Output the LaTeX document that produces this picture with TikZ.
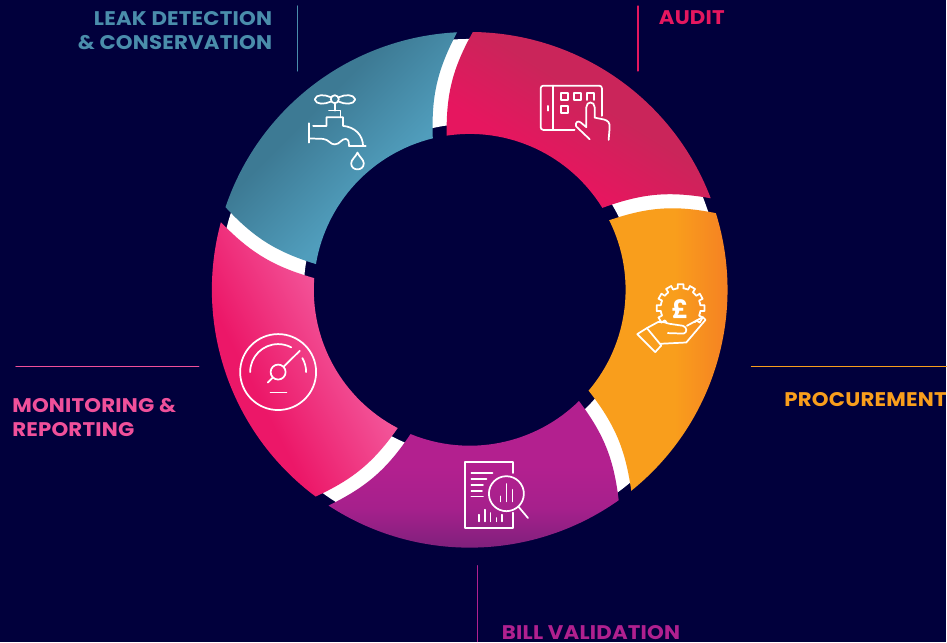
\documentclass[tikz,border=0pt]{standalone}
\usepackage{fontspec}
\setmainfont{Poppins}
\newfontfamily\tagfont[FakeStretch=1.08,LetterSpace=1]{Poppins}
\usepackage{tikz}
\usetikzlibrary{positioning}
\definecolor{mynavy}{HTML}{01003C}
\definecolor{myteal}{HTML}{4A8DAB}
\definecolor{mycrimson}{HTML}{E5175F}
\definecolor{myorange}{HTML}{F99E1C}
\definecolor{mypurple}{HTML}{B0208F}
\definecolor{mypink}{HTML}{F0509A}
\definecolor{tealdark}{HTML}{3D7A94}
\definecolor{teallight}{HTML}{509DBC}
\definecolor{auditlow}{HTML}{E6165F}
\definecolor{audithigh}{HTML}{CA255A}
\definecolor{procend}{HTML}{F47A25}
\definecolor{billlow}{HTML}{702076}
\definecolor{billmid}{HTML}{A6208C}
\definecolor{billtop}{HTML}{B3208F}
\definecolor{monlow}{HTML}{EC1768}
\definecolor{monhigh}{HTML}{F3579B}
\pgfdeclarehorizontalshading{leakshade}{100bp}{color(0bp)=(tealdark); color(40bp)=(tealdark); color(61bp)=(teallight); color(100bp)=(teallight)}
\pgfdeclarehorizontalshading{auditshade}{100bp}{color(0bp)=(auditlow); color(37bp)=(auditlow); color(56bp)=(audithigh); color(100bp)=(audithigh)}
\pgfdeclarehorizontalshading{procshade}{100bp}{color(0bp)=(myorange); color(52bp)=(myorange); color(73bp)=(procend); color(100bp)=(procend)}
\pgfdeclareverticalshading{billshade}{100bp}{color(0bp)=(billlow); color(25bp)=(billlow); color(42bp)=(billmid); color(55bp)=(billtop); color(100bp)=(billtop)}
\pgfdeclarehorizontalshading{monshade}{100bp}{color(0bp)=(monlow); color(39bp)=(monlow); color(63bp)=(monhigh); color(100bp)=(monhigh)}
\newcommand{\ringseg}[3]{\shade[shading=#1,shading angle=#2] (#3:258) arc[start angle=#3,end angle=#3-68.5,radius=258] to[bend right=15] (#3-57.6:156) arc[start angle=#3-57.6,end angle=#3+9.2,radius=156] to[bend left=15] cycle;}

\begin{document}
\begin{tikzpicture}[x=0.75pt,y=0.75pt,line cap=round,line join=round]
	\tikzstyle{leader} = [line width=0.9pt]
	\tikzstyle{tagname} = [inner sep=0,font=\fontsize{14.8}{18}\selectfont\tagfont\bfseries]
	\tikzstyle{icon} = [white,line width=1.3pt]
	\tikzstyle{img} = [shift={(0,642)},yscale=-1]
	\fill[mynavy] (0,0) rectangle (947,642);
	
	% ring
	\begin{scope}[shift={(470,352)}]
		\fill[white,even odd rule] (0,0) circle[radius=251] (0,0) circle[radius=166];
		\ringseg{monshade}{27}{233.3}
		\ringseg{leakshade}{-45}{161.3}
		\ringseg{auditshade}{58}{89.3}
		\ringseg{procshade}{0}{17.3}
		\ringseg{billshade}{0}{-54.7}
	\end{scope}
	
	% tap
	\begin{scope}[img]
		\draw[icon] (335,99.3) circle[radius=4];
		\draw[icon] (331,97.3) .. controls (325,94.5) and (316,94) .. (315,99.5) .. controls (316,105) and (325,104.5) .. (331,101.7);
		\draw[icon] (339,97.3) .. controls (345,94.5) and (354,94) .. (355.5,99.5) .. controls (354,105) and (345,104.5) .. (339,101.7);
		\draw[icon] (335,103.3) -- (335,110.7);
		\draw[icon] (329.3,110.7) -- (340.7,110.7) -- (340.7,117.3);
		\draw[icon] (313.3,126) -- (326.7,126) -- (326.7,117.3) -- (343.3,117.3) -- (343.3,126) .. controls (355,127) and (363,135) .. (363.3,146);
		\draw[icon] (349.3,146) -- (366,146);
		\draw[icon] (309.3,123.3) -- (309.3,142.7);
		\draw[icon] (309.3,138.5) -- (323.3,139) .. controls (329,139.5) and (331,145) .. (335,144.5) .. controls (340,144.5) and (342,138.5) .. (346,139) .. controls (349,139.5) and (349.3,143) .. (349.3,146);
		\draw[icon] (357.7,152.7) .. controls (356,157) and (351.4,159.5) .. (351.4,163.5) .. controls (351.4,171.5) and (364,171.5) .. (364,163.5) .. controls (364,159.5) and (359.4,157) .. (357.7,152.7) -- cycle;
	\end{scope}
	
	% tablet
	\begin{scope}[img]
		\draw[icon,rounded corners=2] (575,130) -- (541,130) -- (541,85.7) -- (602.3,85.7) -- (602.3,116);
		\draw[icon] (553.3,85.7) -- (553.3,130);
		\draw[icon] (548,106) -- (548,110.7);
		\draw[icon] (561,92.7) rectangle (568.3,100);
		\draw[icon] (574.3,92.7) rectangle (581.7,100);
		\draw[icon] (587.3,100) -- (587.3,92.7) -- (594.7,92.7) -- (594.7,100);
		\draw[icon] (561,106) rectangle (568.3,113.3);
		\draw[icon] (590,139.3) -- (576.5,126.5) .. controls (575,122) and (579,120.5) .. (581,122.5) -- (586.7,127.3) -- (586.7,107.3) .. controls (586.7,101) and (595,101) .. (595,107.3) -- (595,117.7) -- (604,119.5) .. controls (608.5,120.5) and (610.5,123) .. (610,128) -- (609,140);
	\end{scope}
	
	% pound hand
	\begin{scope}[img]
		\foreach \t in {-210,-180,...,30} {
			\draw[icon,shift={(681,308.3)}] (\t-15:20) -- (\t-8:20) -- (\t-7:24) -- (\t+7:24) -- (\t+8:20) -- (\t+15:20);
		}
		\draw[icon] (637.7,334.3) -- (647.3,328.3) -- (661.7,345.7) -- (655.7,352.3) -- cycle;
		\draw[icon] (647.3,328.3) -- (658.3,322.3) .. controls (664,321) and (668,324) .. (670,324) -- (683.3,326) .. controls (687.5,327) and (688,333) .. (684,333.8) -- (668.3,333.3);
		\draw[icon] (687.3,326) -- (703.3,317.3) -- (706,320) -- (686.7,342.7) -- (660.7,344);
		\node[inner sep=0,text=white,font=\fontsize{19}{20}\selectfont\bfseries] (pound) at (680.5,309) {£};
	\end{scope}
	
	% document
	\begin{scope}[img]
		\draw[icon] (513.3,473.3) -- (513.3,462) -- (465,462) -- (465,528.3) -- (513.3,528.3) -- (513.3,513);
		\draw[icon] (471.7,473.3) -- (492.7,473.3);
		\draw[icon] (471.7,479) -- (486.7,479);
		\draw[icon] (471.7,485) -- (483.3,485);
		\draw[icon] (471.7,491) -- (482.3,491);
		\draw[icon] (471.7,496.7) -- (483.3,496.7);
		\draw[icon] (506.7,494) circle[radius=17.5];
		\draw[icon] (518.6,506.8) -- (528.3,518.3);
		\draw[icon] (500.7,496.7) -- (500.7,501.7);
		\draw[icon] (506.7,484.3) -- (506.7,501.7);
		\draw[icon] (512.7,490) -- (512.7,501.7);
		\foreach \x/\y in {479/515,485/510,490.7/513.3,496.7/518.3,502.3/515} {
			\draw[icon] (\x,\y) -- (\x,521.7);
		}
	\end{scope}
	
	% gauge
	\begin{scope}[img]
		\draw[icon] (278.3,372.3) circle[radius=38];
		\draw[icon] (250.3,372.3) arc[start angle=180,end angle=298,radius=28];
		\draw[icon] ([shift={(-30:28)}]278.3,372.3) arc[start angle=-30,end angle=0,radius=28];
		\draw[icon] (278.3,372.3) circle[radius=7.5];
		\draw[icon] (284,366.7) -- (300,351);
		\draw[icon] (272.7,378) -- (268,382.7);
		\draw[icon] (270.7,392.7) -- (286.7,392.7);
	\end{scope}
	
	% labels
	\coordinate (leakA) at (297.4,636);
	\coordinate (leakB) at (297.4,571);
	\coordinate (auditA) at (638.4,636);
	\coordinate (auditB) at (638.4,571);
	\coordinate (monA) at (16,275);
	\coordinate (monB) at (199,275);
	\coordinate (procA) at (752,275);
	\coordinate (procB) at (947,275);
	\coordinate (billA) at (477.4,76);
	\coordinate (billB) at (477.4,0);
	\draw[leader,myteal] (leakA) -- (leakB);
	\draw[leader,mycrimson] (auditA) -- (auditB);
	\draw[leader,mypink] (monA) -- (monB);
	\draw[leader,myorange] (procA) -- (procB);
	\draw[leader,mypurple] (billA) -- (billB);
	\node[tagname,text=myteal,align=right,anchor=east] (leakname) at (272.5,611) {LEAK DETECTION\\\& CONSERVATION};
	\node[tagname,text=mycrimson,anchor=west] (auditname) at (659,624.5) {AUDIT};
	\node[tagname,text=mypink,align=left,anchor=west] (monname) at (12,224) {MONITORING \&\\REPORTING};
	\node[tagname,text=myorange,anchor=east] (procname) at (947.5,242) {PROCUREMENT};
	\node[tagname,text=mypurple,anchor=west] (billname) at (502,9) {BILL VALIDATION};
\end{tikzpicture}
\end{document}
